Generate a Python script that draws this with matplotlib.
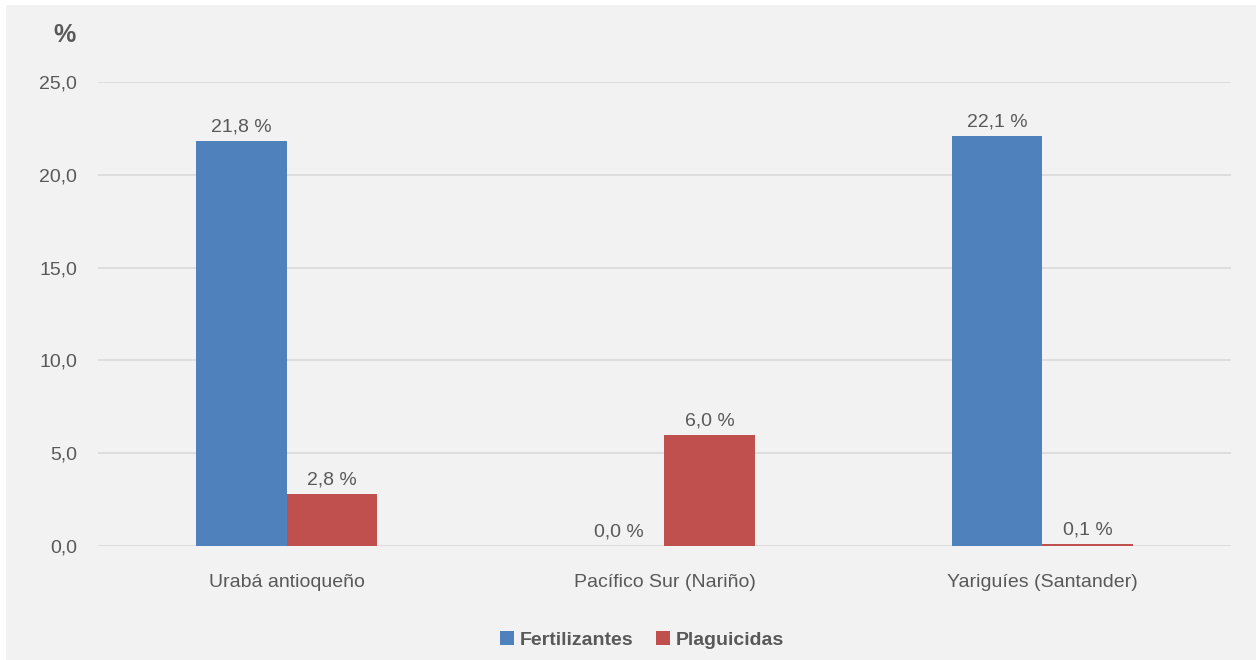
import matplotlib.pyplot as plt
import numpy as np
from matplotlib.patches import Rectangle

plt.rcParams['font.family'] = ['Liberation Sans Narrow', 'Liberation Sans', 'DejaVu Sans']

regiones = ['Urabá antioqueño', 'Pacífico Sur (Nariño)', 'Yariguíes (Santander)']
fertilizantes = [21.8, 0.0, 22.1]
plaguicidas = [2.8, 6.0, 0.1]
series = ['Fertilizantes', 'Plaguicidas']
colores = ['#4f81bd', '#c0504d']
texto = '#595959'
fondo = '#f2f2f2'

def fmt(v):
    return f'{v:.1f}'.replace('.', ',')

fig = plt.figure(figsize=(12.57, 6.6), dpi=100)
fig.patch.set_facecolor('white')
# panel gris con margen blanco
fig.patches.append(Rectangle((6 / 1257, 0), 1250 / 1257, 655 / 660,
                             transform=fig.transFigure, facecolor=fondo,
                             edgecolor='none', zorder=-1))

ax = fig.add_axes([98 / 1257, 1 - 546 / 660, 1133 / 1257, 464 / 660])
ax.set_facecolor(fondo)

x = np.arange(len(regiones))
ancho = 0.24
for i, (vals, nombre) in enumerate(zip([fertilizantes, plaguicidas], series)):
    pos = x + (i - 0.5) * ancho
    ax.bar(pos, vals, width=ancho, color=colores[i], label=nombre, zorder=3)
    for p, v in zip(pos, vals):
        ax.text(p, v + 0.3, f'{fmt(v)} %', ha='center', va='bottom',
                fontsize=14, color=texto)

ax.set_xlim(-0.5, len(regiones) - 0.5)
ax.set_ylim(0, 25)
ax.set_yticks(np.arange(0, 26, 5))
ax.set_yticklabels([fmt(t) for t in np.arange(0, 26, 5)])
ax.set_xticks(x)
ax.set_xticklabels(regiones)
ax.tick_params(axis='both', length=0, labelsize=14, labelcolor=texto)
ax.tick_params(axis='y', pad=15)
ax.tick_params(axis='x', pad=20)
ax.grid(axis='y', color='#d9d9d9', linewidth=1.2, zorder=0)
for s in ax.spines.values():
    s.set_visible(False)

fig.text(65 / 1257, 1 - 35 / 660, '%', ha='center', va='center',
         fontsize=18, fontweight='bold', color=texto)

leg = fig.legend(loc='center', bbox_to_anchor=(642 / 1257, 1 - 640 / 660),
                 ncol=2, frameon=False, handlelength=0.7, handleheight=0.7,
                 handletextpad=0.3, columnspacing=1.2,
                 prop={'size': 14, 'weight': 'bold'})
for t in leg.get_texts():
    t.set_color(texto)

fig.savefig('out.png', dpi=100, facecolor='white')
